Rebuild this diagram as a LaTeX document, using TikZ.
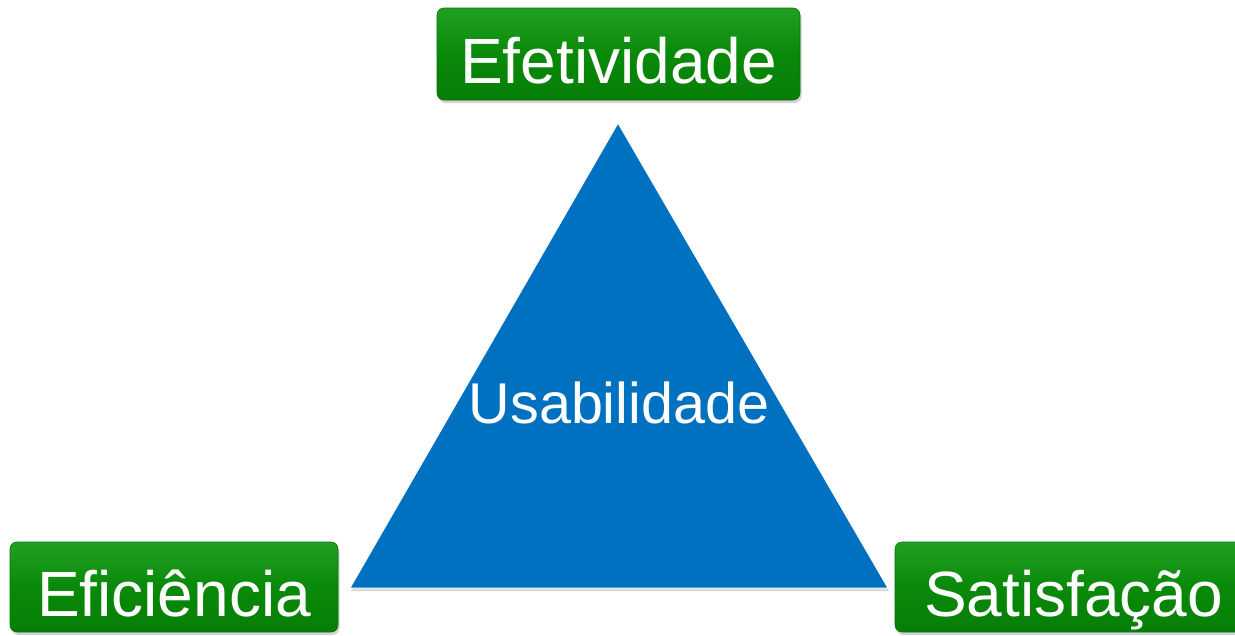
\documentclass[tikz,border=0pt]{standalone}
\usepackage{fontspec}
\setmainfont{Liberation Sans}
\usetikzlibrary{shadows}
\definecolor{triblue}{HTML}{0070C0}
\definecolor{gmid}{HTML}{098909}
\definecolor{glight}{HTML}{22A022}
\definecolor{gdark}{HTML}{077E07}
\definecolor{gedge}{HTML}{067206}
\begin{document}
\begin{tikzpicture}[x=1pt,y=-1pt,
  greenbox/.style={rectangle, rounded corners=7pt, inner sep=0pt,
    top color=glight, bottom color=gdark, middle color=gmid,
    draw=gedge, line width=0.6pt, text=white,
    font=\fontsize{64}{64}\selectfont, text height=58pt, text depth=0pt,
    drop shadow={opacity=0.35, shadow xshift=1.5pt, shadow yshift=-3pt}},
  tri/.style={fill=triblue, draw=white, line width=1pt,
    drop shadow={opacity=0.3, shadow xshift=1pt, shadow yshift=-3pt}},
  centrelabel/.style={anchor=base, text=white, inner sep=0pt,
    font=\fontsize{57.5}{57.5}\selectfont}]
\useasboundingbox (0,0) rectangle (1235,635);
\coordinate (apex) at (618,123);
\coordinate (bl) at (350,588);
\coordinate (br) at (888,588);
\path[tri] (apex) -- (bl) -- (br) -- cycle;
\node[centrelabel] (usab) at (619,423) {Usabilidade};
\node[greenbox, minimum width=363pt, minimum height=92pt] (efet) at (618.5,54) {Efetividade};
\node[greenbox, minimum width=328pt, minimum height=90pt] (efic) at (174,587) {Eficiência};
\node[greenbox, minimum width=357pt, minimum height=90pt] (satis) at (1073.5,587) {Satisfação};
\end{tikzpicture}
\end{document}
